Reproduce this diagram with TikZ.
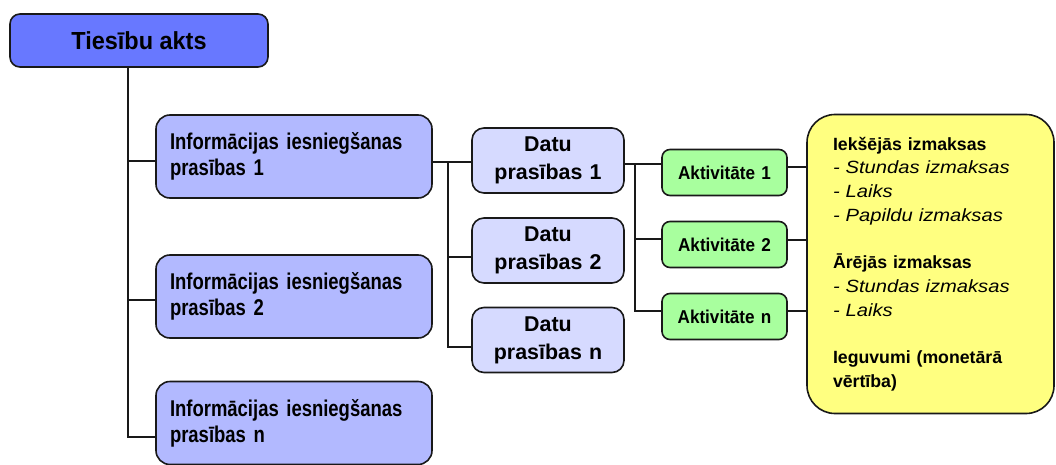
\documentclass[tikz,border=0pt]{standalone}
\usepackage{fontspec}
\setmainfont{Liberation Sans}
\newfontfamily\finfo{Liberation Sans}[FakeStretch=0.81]
\newfontfamily\fdatu{Liberation Sans}[FakeStretch=1.0]
\newfontfamily\fakt{Liberation Sans}[FakeStretch=0.92]
\newfontfamily\froot{Liberation Sans}[FakeStretch=0.95]
\newfontfamily\fyel{Liberation Sans}[FakeStretch=1.0]
\newfontfamily\fyeli{Liberation Sans}[FakeStretch=1.14]
\newcommand\yhead[1]{{\fyel\bfseries #1}}
\newcommand\yitem[1]{{\fyeli\mdseries\itshape #1}}
\definecolor{rootc}{RGB}{104,120,255}
\definecolor{infoc}{RGB}{178,185,255}
\definecolor{datuc}{RGB}{214,218,255}
\definecolor{aktc}{RGB}{168,255,158}
\definecolor{yelc}{RGB}{255,255,128}
\definecolor{edge}{RGB}{25,25,25}
\begin{document}
\begin{tikzpicture}[x=1pt,y=-1pt,
  boxbase/.style={draw=edge, line width=1.6pt, inner sep=0pt, outer sep=0pt},
  rootbox/.style={boxbase, fill=rootc, rounded corners=10pt, minimum width=258pt, minimum height=53pt, font=\froot\bfseries\fontsize{24.7}{28}\selectfont},
  infobox/.style={boxbase, fill=infoc, rounded corners=14pt, minimum width=276pt, minimum height=83pt, text width=248pt, align=left, font=\finfo\bfseries\fontsize{22.8}{26}\selectfont},
  datubox/.style={boxbase, fill=datuc, rounded corners=12pt, minimum width=152pt, minimum height=65pt, text width=140pt, align=center, font=\fdatu\bfseries\fontsize{21.4}{28}\selectfont},
  aktbox/.style={boxbase, fill=aktc, rounded corners=8pt, minimum width=125pt, minimum height=46pt, text width=115pt, align=center, font=\fakt\bfseries\fontsize{18.6}{22}\selectfont},
  yelbox/.style={boxbase, fill=yelc, rounded corners=28pt, minimum width=247pt, minimum height=299pt, text width=195pt, align=left, font=\fontsize{17.7}{23.7}\selectfont},
  conn/.style={draw=edge, line width=1.5pt}]
\useasboundingbox (0,0) rectangle (1056,465);

\node[rootbox] (root) at (139,40.5) {Tiesību akts};

\node[infobox] (info1) at (294,156.5) {Informācijas iesniegšanas\\prasības 1};
\node[infobox] (info2) at (294,296.5) {Informācijas iesniegšanas\\prasības 2};
\node[infobox] (info3) at (294,423) {Informācijas iesniegšanas\\prasības n};

\node[datubox] (datu1) at (548,160.5) {Datu\\prasības 1};
\node[datubox] (datu2) at (548,250.5) {Datu\\prasības 2};
\node[datubox] (datu3) at (548,340) {Datu\\prasības n};

\node[aktbox] (akt1) at (724.5,172.5) {Aktivitāte 1};
\node[aktbox] (akt2) at (724.5,244.5) {Aktivitāte 2};
\node[aktbox] (akt3) at (724.5,316.5) {Aktivitāte n};

\node[yelbox] (yel) at (930.5,264) {\yhead{Iekšējās izmaksas}\\
\yitem{- Stundas izmaksas}\\
\yitem{- Laiks}\\
\yitem{- Papildu izmaksas}\\[23.7pt]
\yhead{Ārējās izmaksas}\\
\yitem{- Stundas izmaksas}\\
\yitem{- Laiks}\\[23.7pt]
\yhead{Ieguvumi (monetārā}\\
\yhead{vērtība)}};

% trunk 1
\coordinate (t1) at ([xshift=-11pt]root.south);
\coordinate (i1) at ([yshift=-4.5pt]info1.west);
\coordinate (i2) at ([yshift=-3.5pt]info2.west);
\coordinate (i3) at ([yshift=-14pt]info3.west);
\draw[conn] (t1) |- (i3);
\draw[conn] (t1 |- i1) -- (i1);
\draw[conn] (t1 |- i2) -- (i2);

% trunk 2
\coordinate (d1) at ([yshift=-1.5pt]datu1.west);
\coordinate (d2) at ([yshift=-6.5pt]datu2.west);
\coordinate (d3) at ([yshift=-7pt]datu3.west);
\coordinate (t2) at ([xshift=16pt]info1.east);
\draw[conn] (info1.east |- d1) -- (d1);
\draw[conn] (t2 |- d1) |- (d3);
\draw[conn] (t2 |- d2) -- (d2);

% trunk 3
\coordinate (a1) at ([yshift=8.5pt]akt1.west);
\coordinate (a2) at ([yshift=5.5pt]akt2.west);
\coordinate (a3) at ([yshift=5.5pt]akt3.west);
\coordinate (t3) at ([xshift=11pt]datu1.east);
\draw[conn] (datu1.east |- a1) -- (a1);
\draw[conn] (t3 |- a1) |- (a3);
\draw[conn] (t3 |- a2) -- (a2);

% to yellow box
\coordinate (e1) at ([yshift=5.5pt]akt1.east);
\coordinate (e2) at ([yshift=4.5pt]akt2.east);
\coordinate (e3) at ([yshift=5.5pt]akt3.east);
\draw[conn] (e1) -- (e1 -| yel.west);
\draw[conn] (e2) -- (e2 -| yel.west);
\draw[conn] (e3) -- (e3 -| yel.west);
\end{tikzpicture}
\end{document}
